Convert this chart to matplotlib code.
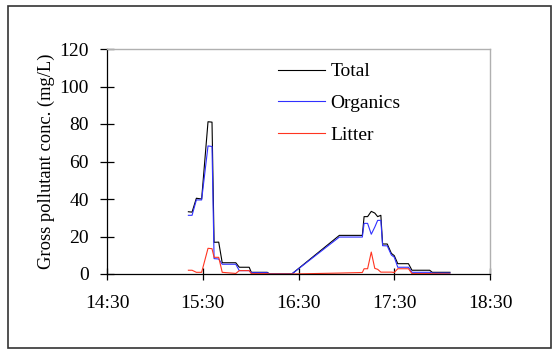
import matplotlib
matplotlib.use("Agg")
import matplotlib.pyplot as plt
from matplotlib.patches import Rectangle

# minutes after 14:30
minutes = [51, 53.3, 56, 59.3, 63.3, 65.8, 67.1, 70, 72.2, 80.7, 82.9, 89.1, 90.4,
           100.4, 101.8, 115.8, 145.6, 160, 161.1, 163.3, 165.6, 167.8, 169.6,
           171.6, 172.7, 175.6, 178.2, 180, 182.2, 188.9, 191.1, 202.2, 203.8, 214.9]

total = [33.2, 33, 40.4, 40, 81.2, 81, 16.9, 17, 6, 6, 3.6, 3.6, 0.9,
         0.9, 0, 0, 20.6, 20.6, 30.6, 30.6, 33.4, 32.5, 30.6,
         31.3, 16, 16, 11, 9.8, 5.5, 5.5, 2, 2, 0.9, 0.9]

organics = [31.3, 31.3, 39.5, 39.5, 68.3, 68, 8.2, 8, 5.2, 5.2, 1.8, 1.8, 0.7,
            0.7, 0, 0, 19.7, 19.7, 27, 27, 21.2, 25, 28.6,
            28.6, 15.1, 15, 10.1, 9, 3.6, 3.6, 0.9, 0.9, 0.5, 0.5]

litter = [2, 2, 0.9, 0.9, 13.7, 13.5, 8.9, 8.9, 0.9, 0.3, 1.8, 1.8, 0.2,
          0.2, 0, 0, 0.5, 0.8, 2.8, 2.8, 11.7, 3, 2.5,
          1, 1, 1, 1, 0.8, 2.8, 2.8, 0.2, 0.2, 0.1, 0]

tick_minutes = [0, 60, 120, 180, 240]
tick_labels = ["14:30", "15:30", "16:30", "17:30", "18:30"]
y_ticks = [0, 20, 40, 60, 80, 100, 120]

plt.rcParams["font.family"] = ["Liberation Serif", "DejaVu Serif"]

fig = plt.figure(figsize=(5.54, 3.49), dpi=100)
ax = fig.add_axes([107 / 554, 1 - 274 / 349, (490 - 107) / 554, (274 - 49) / 349])

ax.plot(minutes, total, color="black", lw=0.8, label="Total")
ax.plot(minutes, organics, color="#3030ff", lw=0.8, label="Organics")
ax.plot(minutes, litter, color="#ff3420", lw=0.8, label="Litter")

ax.set_xlim(0, 240)
ax.set_ylim(0, 120)
ax.set_xticks(tick_minutes)
ax.set_xticklabels(tick_labels)
ax.set_yticks(y_ticks)

ax.spines["top"].set_color("#b0b0b0")
ax.spines["right"].set_color("#b0b0b0")
ax.spines["top"].set_linewidth(1.0)
ax.spines["right"].set_linewidth(1.0)
ax.spines["left"].set_linewidth(0.9)
ax.spines["bottom"].set_linewidth(0.9)

ax.tick_params(axis="x", direction="inout", length=8, width=0.9, pad=11,
               labelsize=14)
ax.tick_params(axis="y", direction="inout", length=10, width=0.9, pad=8,
               labelsize=14)

ax.set_ylabel("Gross pollutant conc. (mg/L)", fontsize=13.3, labelpad=3)

leg = ax.legend(loc="upper left", bbox_to_anchor=((278 - 107) / 383 - 0.02, 1 - (55 - 49) / 225),
                frameon=False, fontsize=14, handlelength=2.4, handletextpad=0.3,
                labelspacing=0.73, borderaxespad=0)

fig.patches.append(Rectangle((8 / 554, 1 - 348 / 349), (551 - 8) / 554, (348 - 6) / 349,
                             transform=fig.transFigure, fill=False,
                             edgecolor="#333333", lw=1.2))

fig.savefig("out.png", dpi=100)
